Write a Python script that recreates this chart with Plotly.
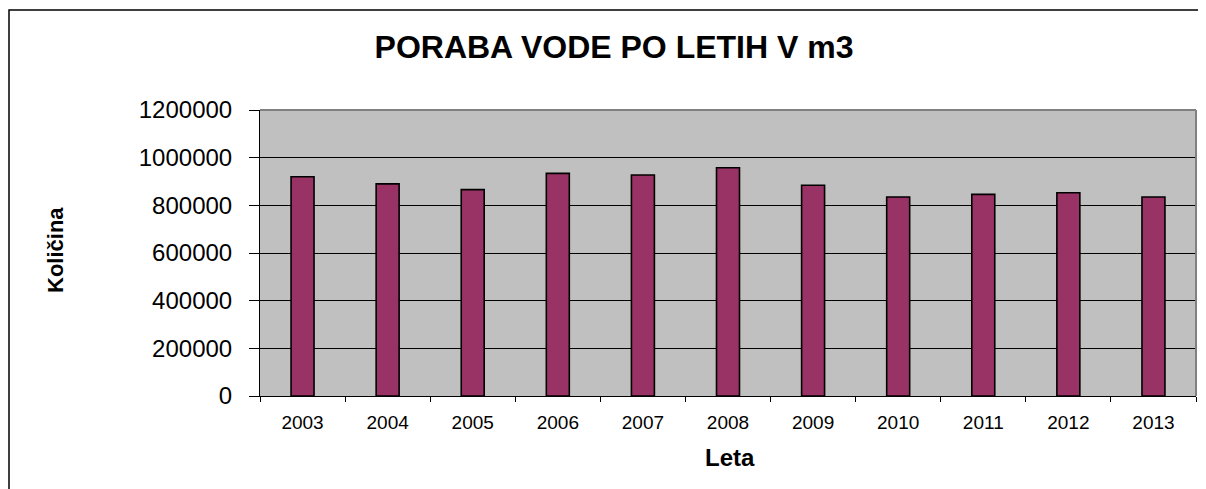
import plotly.graph_objects as go

years = ["2003", "2004", "2005", "2006", "2007", "2008", "2009", "2010", "2011", "2012", "2013"]
kolicina = [920000, 890000, 866000, 934000, 927000, 958000, 884000, 835000, 846000, 853000, 835000]
y_ticks = [0, 200000, 400000, 600000, 800000, 1000000, 1200000]

FONT = "Liberation Sans, Arial, sans-serif"

# page has an 8px body margin, so the figure is placed at (8, 8)
OFF = 8
W, H = 1206 - OFF, 489 - OFF
L, R, T, B = 260 - OFF, 10, 110 - OFF, 489 - 396
pw = W - L - R
ph = H - T - B


def px_x(p):
    return (p - OFF - L) / pw


def px_y(p):
    return (H - B - (p - OFF)) / ph


fig = go.Figure(
    go.Bar(
        x=years,
        y=kolicina,
        marker=dict(color="#993366", line=dict(color="black", width=1.6)),
        hoverinfo="x+y",
    )
)

fig.update_layout(
    width=W,
    height=H,
    margin=dict(l=L, r=R, t=T, b=B),
    paper_bgcolor="white",
    plot_bgcolor="#C0C0C0",
    bargap=0.73,
    showlegend=False,
    font=dict(family=FONT, color="black"),
    title=dict(
        text="<b>PORABA VODE PO LETIH V m3</b>",
        font=dict(size=32, family=FONT, color="black"),
        x=(614 - OFF) / W,
        xref="container",
        xanchor="center",
        y=1 - (47 - OFF) / H,
        yref="container",
        yanchor="middle",
    ),
    xaxis=dict(
        type="category",
        tickson="boundaries",
        ticks="outside",
        ticklen=5,
        tickcolor="black",
        ticklabelstandoff=9,
        tickfont=dict(size=19, family=FONT, color="black"),
        showline=True,
        linecolor="black",
        linewidth=1,
        showgrid=False,
        mirror=False,
    ),
    yaxis=dict(
        range=[0, 1200000],
        tickvals=y_ticks,
        ticktext=[str(v) for v in y_ticks],
        ticks="outside",
        ticklen=10,
        tickcolor="black",
        ticklabelstandoff=12,
        tickfont=dict(size=24, family=FONT, color="black"),
        showline=True,
        linecolor="black",
        linewidth=1,
        showgrid=True,
        gridcolor="black",
        gridwidth=1,
        zeroline=False,
        fixedrange=True,
    ),
    annotations=[
        dict(
            text="<b>Količina</b>",
            xref="paper", yref="paper",
            x=px_x(55), y=px_y(250),
            xanchor="center", yanchor="middle",
            textangle=-90,
            showarrow=False,
            font=dict(size=22, family=FONT, color="black"),
        ),
        dict(
            text="<b>Leta</b>",
            xref="paper", yref="paper",
            x=px_x(730), y=px_y(458),
            xanchor="center", yanchor="middle",
            showarrow=False,
            font=dict(size=24, family=FONT, color="black"),
        ),
    ],
    shapes=[
        # plot area border (gray, top and right)
        dict(type="line", xref="paper", yref="paper", x0=0, x1=1, y0=1, y1=1,
             line=dict(color="#808080", width=2), layer="above"),
        dict(type="line", xref="paper", yref="paper", x0=1, x1=1, y0=0, y1=1,
             line=dict(color="#808080", width=2), layer="above"),
        # outer chart border
        dict(type="rect", xref="paper", yref="paper",
             x0=px_x(9), x1=px_x(1215), y0=px_y(500), y1=px_y(10),
             line=dict(color="black", width=1.5), fillcolor="rgba(0,0,0,0)",
             layer="above"),
    ],
)

fig.write_html("out.html")
